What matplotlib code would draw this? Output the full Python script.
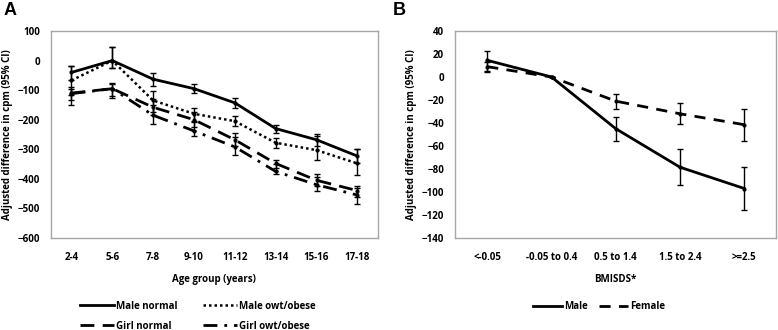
import numpy as np
import matplotlib.pyplot as plt
from matplotlib.lines import Line2D

plt.rcParams['font.family'] = ['Open Sans', 'DejaVu Sans']
plt.rcParams['font.weight'] = 'bold'

# Panel A data
age_groups = ['2-4', '5-6', '7-8', '9-10', '11-12', '13-14', '15-16', '17-18']
male_normal = [-40, 0, -63, -95, -143, -230, -268, -323]
male_normal_lo = [-65, -25, -85, -110, -160, -245, -290, -348]
male_normal_hi = [-17, 45, -42, -78, -128, -217, -250, -300]
male_owt = [-67, 0, -135, -180, -205, -278, -303, -348]
male_owt_lo = [-115, -25, -175, -208, -222, -295, -335, -388]
male_owt_hi = [-20, 45, -103, -160, -188, -262, -255, -298]
girl_normal = [-110, -95, -158, -200, -268, -348, -405, -440]
girl_normal_lo = [-135, -120, -185, -225, -290, -365, -425, -460]
girl_normal_hi = [-88, -77, -130, -175, -245, -335, -385, -425]
girl_owt = [-112, -95, -185, -238, -292, -375, -420, -455]
girl_owt_lo = [-150, -125, -215, -255, -320, -385, -440, -485]
girl_owt_hi = [-95, -80, -150, -205, -258, -350, -395, -430]

# Panel B data
bmi_groups = ['<-0.05', '-0.05 to 0.4', '0.5 to 1.4', '1.5 to 2.4', '>=2.5']
male_b = [14.5, 0, -45, -78.5, -97]
male_b_lo = [5, 0, -56, -94, -116]
male_b_hi = [23, 0, -35, -63, -78]
female_b = [9, 0, -21, -32, -41.5]
female_b_lo = [4.5, 0, -28, -41, -56]
female_b_hi = [13, 0, -15, -22.5, -28]

fig = plt.figure(figsize=(7.78, 3.3), dpi=100)
axA = fig.add_axes([0.0656, 0.279, 0.420, 0.627])
axB = fig.add_axes([0.585, 0.279, 0.413, 0.627])

FS = 7


def draw(ax, x, y, lo, hi, ls, lw):
    y = np.array(y)
    err = [y - np.array(lo), np.array(hi) - y]
    ax.errorbar(x, y, yerr=err, color='black', linestyle=ls, linewidth=lw,
                marker='o', markersize=2, elinewidth=1, capsize=2.5,
                capthick=1)


def style(ax):
    for s in ax.spines.values():
        s.set_color('#a6a6a6')
        s.set_linewidth(1)
    ax.tick_params(axis='y', length=0, labelsize=FS, pad=8)
    ax.tick_params(axis='x', length=0, labelsize=FS, pad=10)
    for lab in ax.get_xticklabels() + ax.get_yticklabels():
        lab.set_fontweight('bold')


xa = np.arange(len(age_groups))
draw(axA, xa, male_normal, male_normal_lo, male_normal_hi, '-', 2)
draw(axA, xa, male_owt, male_owt_lo, male_owt_hi, (0, (1, 1.2)), 1.8)
draw(axA, xa, girl_normal, girl_normal_lo, girl_normal_hi, (0, (5, 3)), 2)
draw(axA, xa, girl_owt, girl_owt_lo, girl_owt_hi, (0, (5, 2.5, 1, 2.5)), 2)
axA.set_xlim(-0.5, len(age_groups) - 0.5)
axA.set_ylim(-600, 100)
axA.set_yticks(range(-600, 101, 100))
axA.set_xticks(xa)
axA.set_xticklabels(age_groups)
axA.set_xlabel('Age group (years)', fontsize=FS, fontweight='bold', labelpad=8)
axA.set_ylabel('Adjusted difference in cpm (95% CI)', fontsize=FS, fontweight='bold', labelpad=3)
style(axA)

xb = np.arange(len(bmi_groups))
draw(axB, xb, male_b, male_b_lo, male_b_hi, '-', 2)
draw(axB, xb, female_b, female_b_lo, female_b_hi, (0, (4, 3)), 2)
axB.set_xlim(-0.5, len(bmi_groups) - 0.5)
axB.set_ylim(-140, 40)
axB.set_yticks(range(-140, 41, 20))
axB.set_xticks(xb)
axB.set_xticklabels(bmi_groups)
axB.set_xlabel('BMISDS*', fontsize=FS, fontweight='bold', labelpad=8)
axB.set_ylabel('Adjusted difference in cpm (95% CI)', fontsize=FS, fontweight='bold', labelpad=3)
style(axB)

# legends
hA = [Line2D([], [], color='black', lw=2, ls='-'),
      Line2D([], [], color='black', lw=1.8, ls=(0, (1, 1.2))),
      Line2D([], [], color='black', lw=2, ls=(0, (5, 3))),
      Line2D([], [], color='black', lw=2, ls=(0, (5, 2.5, 1, 2.5)))]
labA = ['Male normal', 'Male owt/obese', 'Girl normal', 'Girl owt/obese']
fig.legend([hA[0], hA[2], hA[1], hA[3]], [labA[0], labA[2], labA[1], labA[3]],
           ncol=2, loc='center', bbox_to_anchor=(0.254, 0.042), frameon=False,
           handlelength=3.5, handletextpad=0.2, columnspacing=2.6,
           labelspacing=0.9, prop={'weight': 'bold', 'size': FS})

hB = [Line2D([], [], color='black', lw=2, ls='-'),
      Line2D([], [], color='black', lw=2, ls=(0, (4, 3)))]
fig.legend(hB, ['Male', 'Female'], ncol=2, loc='center',
           bbox_to_anchor=(0.77, 0.07), frameon=False, handlelength=3,
           handletextpad=0.2, columnspacing=1.2,
           prop={'weight': 'bold', 'size': FS})

fig.text(0.004, 0.995, 'A', fontsize=13, fontweight='bold', va='top', ha='left',
         family='Liberation Sans')
fig.text(0.505, 0.995, 'B', fontsize=13, fontweight='bold', va='top', ha='left',
         family='Liberation Sans')

fig.savefig('out.png', dpi=100)
